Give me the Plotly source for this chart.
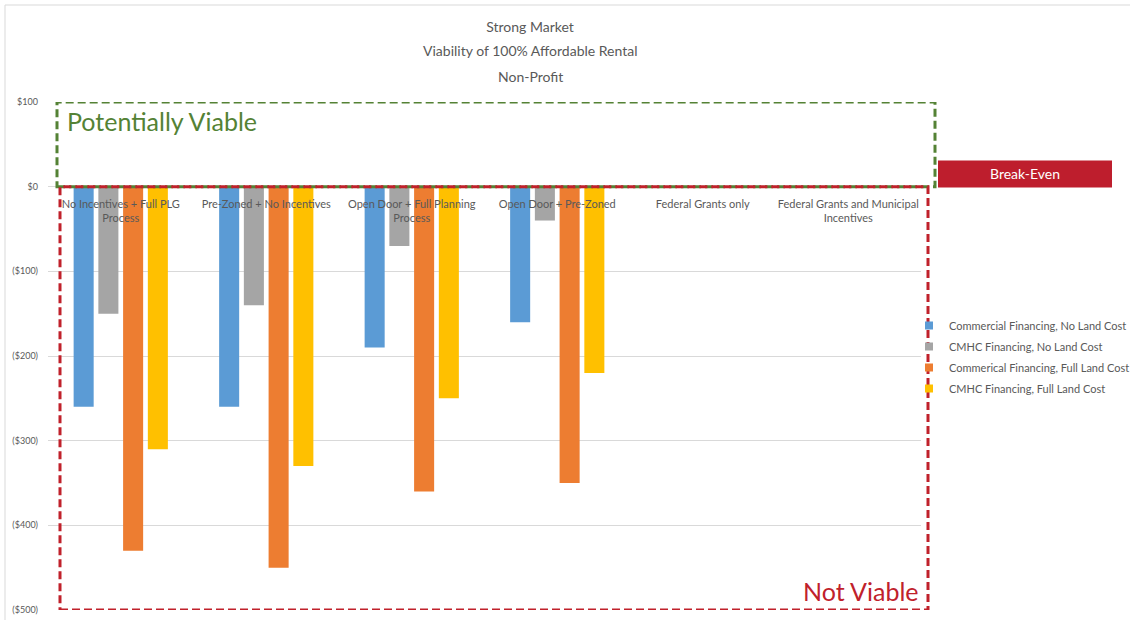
import plotly.graph_objects as go

categories = [
    "No Incentives + Full PLG<br>Process",
    "Pre-Zoned + No Incentives",
    "Open Door + Full Planning<br>Process",
    "Open Door + Pre-Zoned",
    "Federal Grants only",
    "Federal Grants and Municipal<br>Incentives",
]
series_names = [
    "Commercial Financing, No Land Cost",
    "CMHC Financing, No Land Cost",
    "Commerical Financing, Full Land Cost",
    "CMHC Financing, Full Land Cost",
]
commercial_no_land = [-260, -260, -190, -160, None, None]
cmhc_no_land = [-150, -140, -70, -40, None, None]
commercial_full_land = [-430, -450, -360, -350, None, None]
cmhc_full_land = [-310, -330, -250, -220, None, None]
series_values = [commercial_no_land, cmhc_no_land, commercial_full_land, cmhc_full_land]
colors = ["#5B9BD5", "#A5A5A5", "#ED7D31", "#FFC000"]

tick_vals = [100, 0, -100, -200, -300, -400, -500]
tick_text = ["$100", "$0", "($100)", "($200)", "($300)", "($400)", "($500)"]

title_lines = ["Strong Market", "Viability of 100% Affordable Rental", "Non-Profit"]

FONT = "Lato, Carlito, Calibri, sans-serif"
GREY = "#595959"
RED = "#C0212B"
GREEN = "#548235"

fig = go.Figure()
for i, (name, vals, col) in enumerate(zip(series_names, series_values, colors)):
    fig.add_trace(go.Bar(x=categories, y=vals, name=name, marker_color=col,
                         marker_line_width=0, showlegend=False, legendgroup=f"g{i}"))
    # legend entry with a small square swatch
    fig.add_trace(go.Scatter(x=[None], y=[None], mode="markers", name=name,
                             marker=dict(symbol="square", size=8, color=col),
                             legendgroup=f"g{i}", showlegend=True))

# plot area in pixels: x 48..921, y 102..610
L, R, T, B = 48, 921, 102, 610
W = R - L
H = B - T
def px(xp):
    return (xp - L) / W
def py(yp):
    return (B - yp) / H

shapes = [
    # outer chart frame (cut off at right and bottom)
    dict(type="rect", xref="paper", yref="paper", x0=px(5), x1=px(1140), y0=py(630), y1=py(5),
         line=dict(color="#D9D9D9", width=1), layer="below"),
    # Potentially viable (green dashed)
    dict(type="rect", xref="paper", yref="y", x0=px(57), x1=px(935), y0=0, y1=100,
         line=dict(color=GREEN, width=3, dash="8px,4px")),
    # Not viable (red dashed)
    dict(type="rect", xref="paper", yref="y", x0=px(60), x1=px(928), y0=-500, y1=0,
         line=dict(color=RED, width=3, dash="8px,4px")),
    # Break-even box
    dict(type="rect", xref="paper", yref="y", x0=px(938), x1=px(1112), y0=-1, y1=31,
         fillcolor="#BE1E2D", line=dict(width=0)),
]

annotations = [
    dict(text="Potentially Viable", xref="paper", yref="y", x=px(65), y=77,
         xanchor="left", yanchor="middle", showarrow=False,
         font=dict(family=FONT, size=25, color=GREEN)),
    dict(text="Not Viable", xref="paper", yref="y", x=px(921), y=-478,
         xanchor="right", yanchor="middle", showarrow=False,
         font=dict(family=FONT, size=25, color=RED)),
    dict(text="Break-Even", xref="paper", yref="y", x=px(1025), y=15,
         xanchor="center", yanchor="middle", showarrow=False,
         font=dict(family=FONT, size=14, color="white")),
]
for line, ypix in zip(title_lines[1:], [51, 76]):
    annotations.append(dict(text=line, xref="paper", yref="paper", x=px(530), y=py(ypix),
                            xanchor="center", yanchor="middle", showarrow=False,
                            font=dict(family=FONT, size=14, color=GREY)))

fig.update_layout(
    width=1130, height=620,
    margin=dict(l=L, r=1130 - R, t=T, b=620 - B, pad=0, autoexpand=False),
    paper_bgcolor="white", plot_bgcolor="white",
    font=dict(family=FONT, size=10, color=GREY),
    title=dict(text=title_lines[0],
               x=530 / 1130, xref="container", xanchor="center",
               y=1 - 27 / 620, yref="container", yanchor="middle",
               font=dict(family=FONT, size=14, color=GREY)),
    barmode="group", bargap=0.32, bargroupgap=0.19,
    showlegend=True,
    legend=dict(x=px(909), y=py(311), xanchor="left", yanchor="top",
                font=dict(family=FONT, size=11, color=GREY),
                itemwidth=30, tracegroupgap=2, bgcolor="rgba(0,0,0,0)"),
    shapes=shapes, annotations=annotations,
    xaxis=dict(anchor="free", position=500 / 600, showline=False, ticks="outside",
               ticklen=7, tickcolor="rgba(0,0,0,0)", showgrid=False,
               tickfont=dict(family=FONT, size=11, color=GREY), fixedrange=True),
    yaxis=dict(range=[-500, 100], tickvals=tick_vals, ticktext=tick_text,
               showgrid=True, gridcolor="#D9D9D9", gridwidth=1, zeroline=False,
               showline=False, ticks="", ticklabelstandoff=9,
               tickfont=dict(family=FONT, size=9, color=GREY)),
)

fig.write_html("out.html")
